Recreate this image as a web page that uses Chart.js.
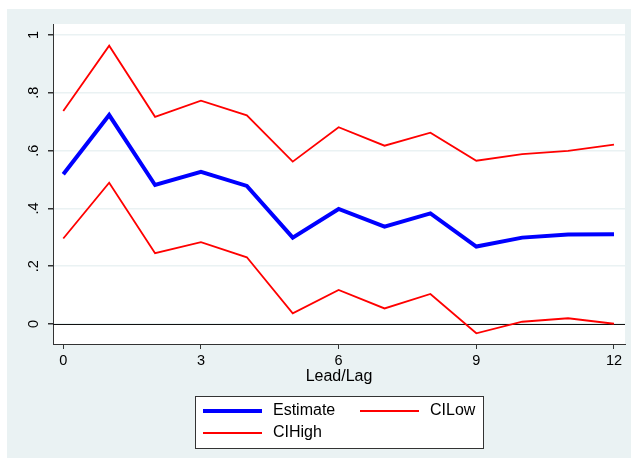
<!DOCTYPE html>
<html>
<head>
<meta charset="utf-8">
<script src="https://cdn.jsdelivr.net/npm/chart.js@4.4.0/dist/chart.umd.min.js"></script>
<style>
  html, body { margin: 0; padding: 0; background: #fff; }
  #wrap { width: 631px; height: 463px; }
</style>
</head>
<body>
<div id="wrap"><canvas id="chart" width="631" height="463"></canvas></div>
<script>
// values
const leadLag = [0, 1, 2, 3, 4, 5, 6, 7, 8, 9, 10, 11, 12];
const estimate = [0.518, 0.723, 0.481, 0.527, 0.478, 0.299, 0.398, 0.337, 0.383, 0.268, 0.299, 0.310, 0.311];
const ciLow = [0.296, 0.489, 0.245, 0.283, 0.231, 0.037, 0.118, 0.054, 0.104, -0.032, 0.008, 0.020, 0.001];
const ciHigh = [0.737, 0.963, 0.717, 0.773, 0.722, 0.562, 0.681, 0.617, 0.662, 0.565, 0.588, 0.599, 0.621];
const xTicks = [0, 3, 6, 9, 12];
const yTicks = [0, 0.2, 0.4, 0.6, 0.8, 1];
const yTickLabels = ['0', '.2', '.4', '.6', '.8', '1'];
const xTitle = 'Lead/Lag';

const FONT = '"Liberation Sans", Arial, sans-serif';
const BG = '#eaf2f3';
const INK = '#333333';

const toPoints = arr => arr.map((v, i) => ({ x: leadLag[i], y: v }));

// stata style frame, zero line, rotated y labels, x title and boxed legend
const stataFrame = {
  id: 'stataFrame',
  beforeDraw(chart) {
    const { ctx, chartArea: a } = chart;
    ctx.save();
    ctx.fillStyle = '#fff';
    ctx.fillRect(0, 0, chart.width, chart.height);
    ctx.fillStyle = BG;
    ctx.fillRect(7, 9, chart.width - 7, 449);
    ctx.fillStyle = '#fff';
    ctx.fillRect(a.left, a.top, a.right - a.left, a.bottom - a.top);
    ctx.restore();
  },
  beforeDatasetsDraw(chart) {
    const { ctx, chartArea: a } = chart;
    const y0 = Math.round(chart.scales.y.getPixelForValue(0)) + 0.5;
    ctx.save();
    ctx.strokeStyle = '#111';
    ctx.lineWidth = 1;
    ctx.beginPath();
    ctx.moveTo(a.left, y0);
    ctx.lineTo(a.right, y0);
    ctx.stroke();
    ctx.restore();
  },
  afterDraw(chart) {
    const { ctx, chartArea: a } = chart;
    const ys = chart.scales.y;
    ctx.save();
    ctx.fillStyle = '#000';
    ctx.font = '14.5px ' + FONT;
    ctx.textAlign = 'center';
    ctx.textBaseline = 'middle';
    yTicks.forEach((v, i) => {
      const py = ys.getPixelForValue(v);
      ctx.save();
      ctx.translate(34, py);
      ctx.rotate(-Math.PI / 2);
      ctx.fillText(yTickLabels[i], 0, 0);
      ctx.restore();
    });

    // axis title
    ctx.font = '16px ' + FONT;
    ctx.fillText(xTitle, (a.left + a.right) / 2, 377);

    // legend
    ctx.strokeStyle = INK;
    ctx.lineWidth = 1;
    ctx.fillStyle = '#fff';
    ctx.fillRect(195.5, 396.5, 288, 52);
    ctx.strokeRect(195.5, 396.5, 288, 52);
    const slots = [[203, 411], [360, 411], [203, 433]];
    chart.data.datasets.forEach((ds, i) => {
      const [lx, ly] = slots[i];
      ctx.strokeStyle = ds.borderColor;
      ctx.lineWidth = ds.borderWidth;
      ctx.beginPath();
      ctx.moveTo(lx, ly);
      ctx.lineTo(lx + 59, ly);
      ctx.stroke();
      ctx.fillStyle = '#000';
      ctx.textAlign = 'left';
      ctx.fillText(ds.label, lx + 70, ly);
    });
    ctx.restore();
  }
};

new Chart(document.getElementById('chart'), {
  type: 'line',
  data: {
    datasets: [
      { label: 'Estimate', data: toPoints(estimate), borderColor: '#0000ff', borderWidth: 4 },
      { label: 'CILow', data: toPoints(ciLow), borderColor: '#ff0000', borderWidth: 1.8 },
      { label: 'CIHigh', data: toPoints(ciHigh), borderColor: '#ff0000', borderWidth: 1.8 }
    ]
  },
  options: {
    responsive: false,
    animation: false,
    devicePixelRatio: 1,
    layout: { padding: { left: 0, top: 24, right: 6, bottom: 0 } },
    elements: {
      point: { radius: 0, hoverRadius: 0 },
      line: { tension: 0, fill: false, borderJoinStyle: 'miter' }
    },
    plugins: {
      legend: { display: false },
      tooltip: { enabled: false }
    },
    scales: {
      x: {
        type: 'linear',
        min: -0.224,
        max: 12.24,
        afterBuildTicks: s => { s.ticks = xTicks.map(v => ({ value: v })); },
        afterFit: s => { s.height = 119; },
        border: { color: INK, width: 1 },
        grid: { drawOnChartArea: false, tickLength: 5, tickColor: INK },
        ticks: { color: '#000', padding: 3, font: { family: FONT, size: 14.5 }, maxRotation: 0 }
      },
      y: {
        type: 'linear',
        min: -0.069,
        max: 1.038,
        afterBuildTicks: s => { s.ticks = yTicks.map(v => ({ value: v })); },
        afterFit: s => { s.width = 53; },
        border: { color: INK, width: 1 },
        grid: { color: BG, lineWidth: 1.5, tickLength: 5, tickColor: INK },
        ticks: { display: false }
      }
    }
  },
  plugins: [stataFrame]
});
</script>
</body>
</html>
